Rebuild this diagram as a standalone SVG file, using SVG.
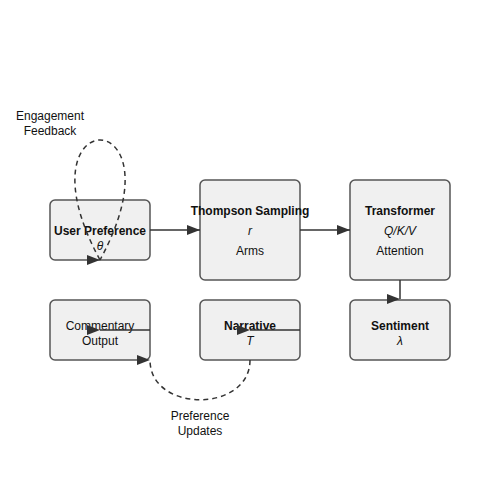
<svg xmlns="http://www.w3.org/2000/svg" width="500" height="500" viewBox="0 0 500 500">
<style>
.node rect{fill:#f0f0f0;stroke:#555;stroke-width:1.5}
text{font-family:"Liberation Sans",Arial,sans-serif;font-size:12px;fill:#111;text-anchor:middle}
.b{font-weight:bold}
.i{font-style:italic}
.edge{fill:none;stroke:#333;stroke-width:1.5}
.dash{stroke-dasharray:5,4}
</style>
<defs>
<marker id="arrow" viewBox="0 0 10 10" preserveAspectRatio="none" refX="10" refY="5" markerUnits="userSpaceOnUse" markerWidth="13" markerHeight="10" orient="auto"><path d="M0,0L10,5L0,10z" fill="#333"/></marker>
<marker id="arrowR" viewBox="0 0 10 10" preserveAspectRatio="none" refX="10" refY="5" markerUnits="userSpaceOnUse" markerWidth="13" markerHeight="10" orient="0"><path d="M0,0L10,5L0,10z" fill="#333"/></marker>
</defs>
<rect width="500" height="500" fill="#fff"/>
<g id="user-preference" class="node"><rect x="50" y="200" width="100" height="60" rx="5"/><text class="b" x="100" y="235">User Preference</text><text class="i" x="100" y="250">θ</text></g>
<g id="thompson-sampling" class="node"><rect x="200" y="180" width="100" height="100" rx="5"/><text class="b" x="250" y="215">Thompson Sampling</text><text class="i" x="250" y="235">r</text><text x="250" y="255">Arms</text></g>
<g id="transformer" class="node"><rect x="350" y="180" width="100" height="100" rx="5"/><text class="b" x="400" y="215">Transformer</text><text class="i" x="400" y="235">Q/K/V</text><text x="400" y="255">Attention</text></g>
<g id="sentiment" class="node"><rect x="350" y="300" width="100" height="60" rx="5"/><text class="b" x="400" y="330">Sentiment</text><text class="i" x="400" y="345">λ</text></g>
<g id="narrative" class="node"><rect x="200" y="300" width="100" height="60" rx="5"/><text class="b" x="250" y="330">Narrative</text><text class="i" x="250" y="345">T</text></g>
<g id="commentary-output" class="node"><rect x="50" y="300" width="100" height="60" rx="5"/><text x="100" y="330">Commentary</text><text x="100" y="345">Output</text></g>
<g id="connectors">
<path class="edge" d="M150,230L200,230" marker-end="url(#arrow)"/>
<path class="edge" d="M300,230L350,230" marker-end="url(#arrow)"/>
<path class="edge" d="M400,280L400,299" marker-end="url(#arrowR)"/>
<path class="edge" d="M300,330L250,330" marker-end="url(#arrowR)"/>
<path class="edge" d="M150,330L100,330" marker-end="url(#arrowR)"/>
<path class="edge dash" d="M250,360C250,413 150,413 150,360" marker-end="url(#arrowR)"/>
<path class="edge dash" d="M100,260C13,100 187,100 100,260" marker-end="url(#arrowR)"/>
<text x="50" y="120">Engagement</text><text x="50" y="135">Feedback</text>
<text x="200" y="420">Preference</text><text x="200" y="435">Updates</text>
</g>
</svg>
